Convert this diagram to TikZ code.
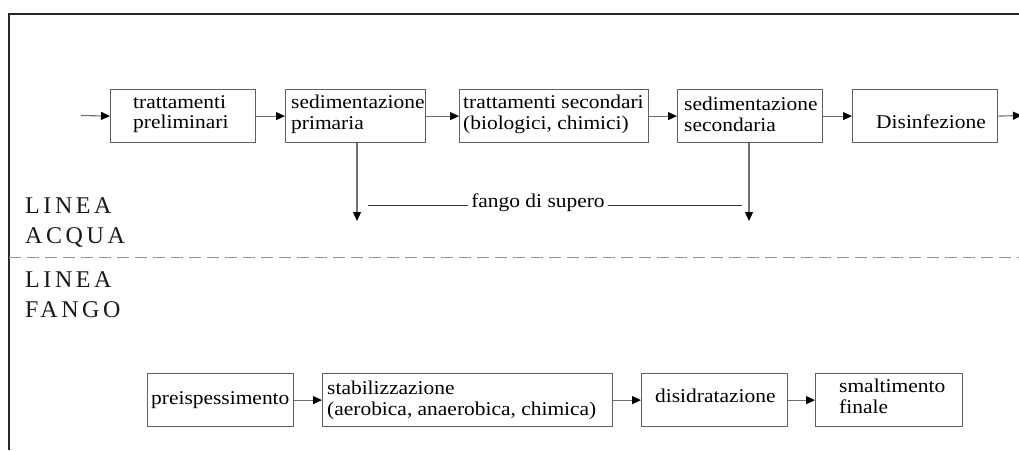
\documentclass[tikz,border=0pt]{standalone}
\usepackage{fontspec}
\setmainfont{Liberation Serif}[FakeStretch=1.1]
\newfontfamily\bigfont{Liberation Serif}[LetterSpace=15]
\usetikzlibrary{arrows.meta}
\definecolor{boxline}{RGB}{95,95,95}
\definecolor{conn}{RGB}{110,110,110}
\definecolor{dashc}{RGB}{150,150,150}
\definecolor{frame}{RGB}{40,40,40}
\tikzset{
  box/.style={draw=boxline, line width=1.2pt, rectangle, inner sep=0pt, anchor=north west},
  txt/.style={inner sep=0pt, align=left, anchor=west, text=black, font=\fontsize{19.5}{20.5}\selectfont},
  big/.style={inner sep=0pt, align=left, anchor=base west, text=black!90, font=\bigfont\fontsize{24}{29.5}\selectfont},
  conn/.style={draw=conn, line width=1.1pt, -{Triangle[length=9pt,width=8pt,color=black]}},
  plain/.style={draw=conn, line width=1.1pt},
}
\begin{document}
\begin{tikzpicture}[x=1pt,y=-1pt]
\useasboundingbox (0,0) rectangle (1019,450);
% frame
\draw[frame, line width=1.4pt] (9,450) -- (9,14) -- (1025,14);
% water line boxes
\node[box, minimum width=145pt, minimum height=53pt] (b1) at (110,89) {};
\node[box, minimum width=140pt, minimum height=53pt] (b2) at (285,89) {};
\node[box, minimum width=189pt, minimum height=53pt] (b3) at (459,89) {};
\node[box, minimum width=145pt, minimum height=53pt] (b4) at (677,89) {};
\node[box, minimum width=145pt, minimum height=53pt] (b5) at (852,89) {};
\node[txt] (t1) at ([xshift=23pt,yshift=2pt]b1.west) {trattamenti\\preliminari};
\node[txt] (t2) at ([xshift=6pt,yshift=2pt]b2.west) {sedimentazione\\primaria};
\node[txt] (t3) at ([xshift=4pt,yshift=2pt]b3.west) {trattamenti secondari\\(biologici, chimici)};
\node[txt] (t4) at ([xshift=7pt,yshift=2pt]b4.west) {sedimentazione\\secondaria};
\node[txt] (t5) at ([xshift=24pt,yshift=-6pt]b5.west) {Disinfezione};
\coordinate (in) at (81,115.5);
\coordinate (out) at (1022,115.5);
\draw[conn] (in) -- (b1.west);
\draw[conn] (b1.east) -- (b2.west);
\draw[conn] (b2.east) -- (b3.west);
\draw[conn] (b3.east) -- (b4.west);
\draw[conn] (b4.east) -- (b5.west);
\draw[conn] (b5.east) -- (out);
% sludge drops
\coordinate (d1) at (357,221);
\coordinate (d2) at (749,221);
\draw[conn] (b2.south -| d1) -- (d1);
\draw[conn] (b4.south -| d2) -- (d2);
\node[inner sep=3pt, text=black, font=\fontsize{19.5}{20.5}\selectfont] (fs) at (538,203) {fango di supero};
\coordinate (fl) at (368,205.5);
\coordinate (fr) at (742,205.5);
\draw[plain, draw=black!80] (fl) -- (fl -| fs.west);
\draw[plain, draw=black!80] (fs.east |- fr) -- (fr);
% section labels
\node[big] (la) at (25,243) {LINEA\\ACQUA};
\coordinate (dl) at (9,257.5);
\coordinate (dr) at (1019,257.5);
\draw[dashc, line width=1.4pt, dash pattern=on 12pt off 6pt] (dl) -- (dr);
\node[big] (lf) at (25,317) {LINEA\\FANGO};
% sludge line boxes
\node[box, minimum width=146pt, minimum height=53pt] (p1) at (147,373) {};
\node[box, minimum width=290pt, minimum height=53pt] (p2) at (322,373) {};
\node[box, minimum width=146pt, minimum height=53pt] (p3) at (641,373) {};
\node[box, minimum width=147pt, minimum height=53pt] (p4) at (815,373) {};
\node[txt] (s1) at ([xshift=4pt]p1.west) {preispessimento};
\node[txt] (s2) at ([xshift=5pt]p2.west) {stabilizzazione\\(aerobica, anaerobica, chimica)};
\node[txt] (s3) at ([xshift=14pt,yshift=4pt]p3.west) {disidratazione};
\node[txt] (s4) at ([xshift=24pt,yshift=4pt]p4.west) {smaltimento\\finale};
\draw[conn] (p1.east) -- (p2.west);
\draw[conn] (p2.east) -- (p3.west);
\draw[conn] (p3.east) -- (p4.west);
\end{tikzpicture}
\end{document}
